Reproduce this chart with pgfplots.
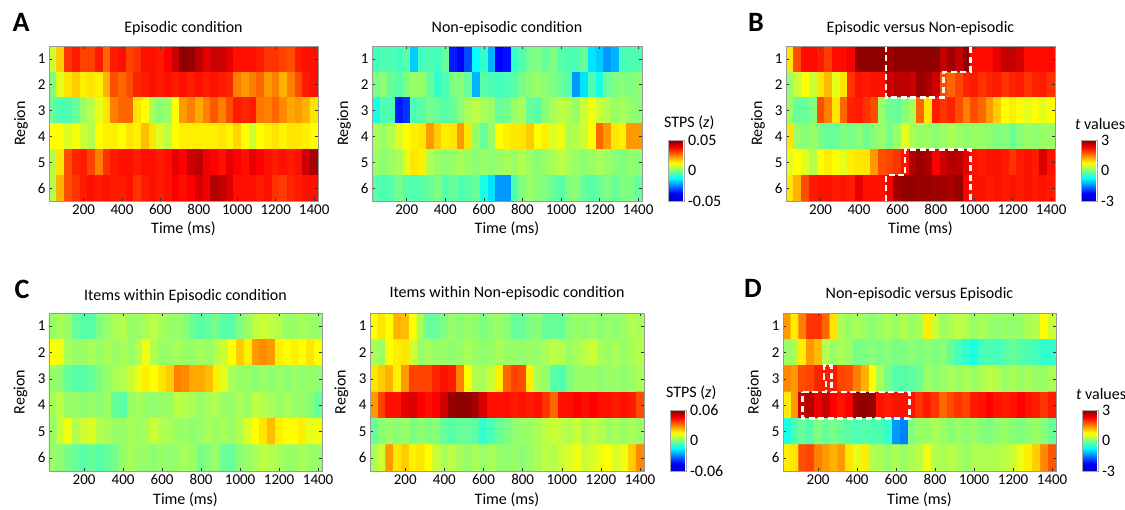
\documentclass[border=0pt]{standalone}
\usepackage{fontspec}
\setmainfont{Carlito}
\usepackage{pgfplots}
\pgfplotsset{compat=1.18}
\newcommand\fsz[1]{\fontsize{#1}{#1}\selectfont}
\pgfplotsset{
  colormap={myjet}{rgb255(0cm)=(0,0,190); rgb255(1cm)=(0,0,255); rgb255(3cm)=(0,255,255); rgb255(5cm)=(255,255,0); rgb255(7cm)=(255,0,0); rgb255(8cm)=(128,0,0)},
  hm/.style={scale only axis, anchor=north west,
    xmin=20, xmax=1420, ymin=0.5, ymax=6.5, y dir=reverse, enlargelimits=false, axis on top,
    xtick={200,400,...,1400}, ytick={1,2,3,4,5,6},
    tick align=inside, major tick length=3pt, tick style={black!80, line width=0.5pt},
    axis line style={gray!80, line width=0.6pt},
    xlabel={Time (ms)}, ylabel={Region},
    xlabel style={at={(axis description cs:0.5,-0.18)}, anchor=center, font=\fsz{16}},
    ylabel style={at={(axis description cs:-0.104,0.5)}, anchor=center, font=\fsz{16}},
    ticklabel style={font=\fsz{15}},
    /pgf/number format/1000 sep={}, /pgf/number format/assume math mode=true,
    title style={at={(axis description cs:0.5,1)}, anchor=center, yshift=14pt, font=\fsz{16}},
    colormap name=myjet},
  cbar/.style n args={4}{colorbar, colorbar style={scale only axis,
    at={(parent axis.south east)}, anchor=south west, xshift=18pt,
    width=16pt, height=61pt, y dir=normal, xtick=\empty,
    ytick={#1}, yticklabels={#2}, scaled y ticks=false,
    major tick length=0pt, axis line style={gray!70, line width=0.5pt},
    yticklabel style={font=\fsz{16}},
    xlabel={}, ylabel={},
    title={#4}, title style={at={(axis description cs:0,1)}, anchor=south west, xshift=#3, yshift=1pt, font=\fsz{16}}}},
  ct/.style={white, line width=2.6pt, dash pattern=on 6pt off 3.5pt, forget plot}
}
\begin{document}
\begin{tikzpicture}
\path[use as bounding box] (0,0) rectangle (1125pt,-510pt);
\node[font=\bfseries\fsz{28}] at (21pt,-22pt) {A};
\node[font=\bfseries\fsz{28}] at (756pt,-22pt) {B};
\node[font=\bfseries\fsz{28}] at (22pt,-289pt) {C};
\node[font=\bfseries\fsz{28}] at (753pt,-288pt) {D};

% ---------- A: Episodic condition
\begin{axis}[hm, at={(49pt,-46pt)}, width=269pt, height=155pt, title={Episodic condition},
  title style={yshift=-2pt}, point meta min=-0.05, point meta max=0.05]
\addplot[matrix plot*, mesh/cols=35, point meta=explicit] coordinates {
(40,1)[.0075] (80,1)[.0175] (120,1)[.0325] (160,1)[.035] (200,1)[.031] (240,1)[.031] (280,1)[.035] (320,1)[.0275] (360,1)[.035] (400,1)[.036] (440,1)[.031] (480,1)[.0325] (520,1)[.036] (560,1)[.036] (600,1)[.035] (640,1)[.0375] (680,1)[.0425] (720,1)[.0485] (760,1)[.0475] (800,1)[.044] (840,1)[.04] (880,1)[.0425] (920,1)[.0425] (960,1)[.04] (1000,1)[.036] (1040,1)[.036] (1080,1)[.036] (1120,1)[.035] (1160,1)[.0325] (1200,1)[.0325] (1240,1)[.031] (1280,1)[.03] (1320,1)[.035] (1360,1)[.036] (1400,1)[.036]
(40,2)[0] (80,2)[.01] (120,2)[.015] (160,2)[.0175] (200,2)[.014] (240,2)[.015] (280,2)[.014] (320,2)[.02] (360,2)[.03] (400,2)[.0275] (440,2)[.03] (480,2)[.034] (520,2)[.035] (560,2)[.036] (600,2)[.035] (640,2)[.036] (680,2)[.035] (720,2)[.036] (760,2)[.035] (800,2)[.036] (840,2)[.035] (880,2)[.036] (920,2)[.035] (960,2)[.034] (1000,2)[.025] (1040,2)[.0225] (1080,2)[.025] (1120,2)[.0275] (1160,2)[.0225] (1200,2)[.025] (1240,2)[.02] (1280,2)[.025] (1320,2)[.03] (1360,2)[.035] (1400,2)[.036]
(40,3)[-.0025] (80,3)[-.005] (120,3)[-.005] (160,3)[-.0025] (200,3)[.0025] (240,3)[.006] (280,3)[.01] (320,3)[.015] (360,3)[.025] (400,3)[.0275] (440,3)[.0275] (480,3)[.015] (520,3)[.0125] (560,3)[.004] (600,3)[.001] (640,3)[.0025] (680,3)[.0125] (720,3)[.0225] (760,3)[.025] (800,3)[.021] (840,3)[.025] (880,3)[.029] (920,3)[.025] (960,3)[.03] (1000,3)[.035] (1040,3)[.034] (1080,3)[.035] (1120,3)[.026] (1160,3)[.025] (1200,3)[.0275] (1240,3)[.024] (1280,3)[.021] (1320,3)[.0225] (1360,3)[.02] (1400,3)[.015]
(40,4)[.0125] (80,4)[.0125] (120,4)[.009] (160,4)[.0115] (200,4)[.0075] (240,4)[.005] (280,4)[.0125] (320,4)[.014] (360,4)[.014] (400,4)[.0125] (440,4)[.015] (480,4)[.014] (520,4)[.019] (560,4)[.015] (600,4)[.009] (640,4)[.006] (680,4)[.0125] (720,4)[.014] (760,4)[.014] (800,4)[.014] (840,4)[.014] (880,4)[.014] (920,4)[.015] (960,4)[.0135] (1000,4)[.0165] (1040,4)[.0125] (1080,4)[.0075] (1120,4)[.0125] (1160,4)[.014] (1200,4)[.015] (1240,4)[.0135] (1280,4)[.015] (1320,4)[.015] (1360,4)[.014] (1400,4)[.0125]
(40,5)[.005] (80,5)[.015] (120,5)[.03] (160,5)[.034] (200,5)[.035] (240,5)[.031] (280,5)[.025] (320,5)[.0325] (360,5)[.035] (400,5)[.036] (440,5)[.036] (480,5)[.035] (520,5)[.036] (560,5)[.036] (600,5)[.035] (640,5)[.036] (680,5)[.04] (720,5)[.0375] (760,5)[.0425] (800,5)[.044] (840,5)[.039] (880,5)[.0375] (920,5)[.036] (960,5)[.04] (1000,5)[.0375] (1040,5)[.036] (1080,5)[.04] (1120,5)[.0375] (1160,5)[.036] (1200,5)[.035] (1240,5)[.036] (1280,5)[.035] (1320,5)[.036] (1360,5)[.0425] (1400,5)[.046]
(40,6)[.005] (80,6)[.02] (120,6)[.03] (160,6)[.0325] (200,6)[.035] (240,6)[.036] (280,6)[.035] (320,6)[.036] (360,6)[.035] (400,6)[.035] (440,6)[.036] (480,6)[.0325] (520,6)[.035] (560,6)[.036] (600,6)[.035] (640,6)[.036] (680,6)[.0375] (720,6)[.036] (760,6)[.0375] (800,6)[.041] (840,6)[.039] (880,6)[.045] (920,6)[.044] (960,6)[.041] (1000,6)[.036] (1040,6)[.036] (1080,6)[.036] (1120,6)[.035] (1160,6)[.036] (1200,6)[.0325] (1240,6)[.0315] (1280,6)[.034] (1320,6)[.035] (1360,6)[.036] (1400,6)[.036]
};
\end{axis}

% ---------- Non-episodic condition
\begin{axis}[hm, at={(372pt,-46pt)}, width=270pt, height=155pt, title={Non-episodic condition},
  title style={yshift=-2pt}, point meta min=-0.05, point meta max=0.05,
  cbar={-0.05,0,0.05}{-0.05,0,0.05}{-8pt}{STPS (\textit{z})}]
\addplot[matrix plot*, mesh/cols=35, point meta=explicit] coordinates {
(40,1)[-.006] (80,1)[-.005] (120,1)[-.005] (160,1)[-.006] (200,1)[-.004] (240,1)[-.0175] (280,1)[-.006] (320,1)[-.005] (360,1)[-.006] (400,1)[-.0025] (440,1)[-.035] (480,1)[-.0375] (520,1)[-.03] (560,1)[-.0125] (600,1)[-.0075] (640,1)[-.02] (680,1)[-.0375] (720,1)[-.036] (760,1)[-.0075] (800,1)[-.005] (840,1)[-.001] (880,1)[0] (920,1)[-.0025] (960,1)[0] (1000,1)[-.004] (1040,1)[-.005] (1080,1)[-.005] (1120,1)[-.0025] (1160,1)[-.015] (1200,1)[-.0175] (1240,1)[-.0225] (1280,1)[-.02] (1320,1)[-.006] (1360,1)[-.005] (1400,1)[-.005]
(40,2)[0] (80,2)[.001] (120,2)[-.0025] (160,2)[-.004] (200,2)[0] (240,2)[.0025] (280,2)[.0025] (320,2)[-.0025] (360,2)[-.0075] (400,2)[-.005] (440,2)[0] (480,2)[.001] (520,2)[-.0025] (560,2)[-.02] (600,2)[-.004] (640,2)[-.005] (680,2)[-.006] (720,2)[-.005] (760,2)[-.004] (800,2)[-.001] (840,2)[.001] (880,2)[.0025] (920,2)[.001] (960,2)[0] (1000,2)[-.0025] (1040,2)[-.004] (1080,2)[-.0225] (1120,2)[-.015] (1160,2)[-.005] (1200,2)[-.01] (1240,2)[-.0025] (1280,2)[0] (1320,2)[.001] (1360,2)[0] (1400,2)[.001]
(40,3)[-.01] (80,3)[-.005] (120,3)[-.005] (160,3)[-.035] (200,3)[-.0325] (240,3)[-.005] (280,3)[-.004] (320,3)[-.001] (360,3)[-.0025] (400,3)[-.004] (440,3)[-.0025] (480,3)[.001] (520,3)[.004] (560,3)[.006] (600,3)[.004] (640,3)[.0025] (680,3)[-.0025] (720,3)[-.001] (760,3)[.0025] (800,3)[.004] (840,3)[-.0025] (880,3)[-.004] (920,3)[.001] (960,3)[.004] (1000,3)[.006] (1040,3)[.005] (1080,3)[.0025] (1120,3)[.0075] (1160,3)[.011] (1200,3)[.0075] (1240,3)[.005] (1280,3)[.0025] (1320,3)[.004] (1360,3)[.0025] (1400,3)[.001]
(40,4)[.004] (80,4)[.0025] (120,4)[.005] (160,4)[.009] (200,4)[.0125] (240,4)[.014] (280,4)[.015] (320,4)[.0225] (360,4)[.0175] (400,4)[.014] (440,4)[.015] (480,4)[.0225] (520,4)[.015] (560,4)[.0025] (600,4)[-.0025] (640,4)[.0025] (680,4)[.0125] (720,4)[.014] (760,4)[.015] (800,4)[.015] (840,4)[.0175] (880,4)[.0125] (920,4)[.014] (960,4)[.009] (1000,4)[.011] (1040,4)[.004] (1080,4)[.005] (1120,4)[.0075] (1160,4)[.0125] (1200,4)[.0275] (1240,4)[.0225] (1280,4)[.015] (1320,4)[.014] (1360,4)[.0225] (1400,4)[.0225]
(40,5)[.0025] (80,5)[.0015] (120,5)[.0025] (160,5)[.004] (200,5)[.01] (240,5)[.015] (280,5)[.014] (320,5)[.005] (360,5)[.0025] (400,5)[.0015] (440,5)[.0025] (480,5)[.004] (520,5)[.0025] (560,5)[.001] (600,5)[.0025] (640,5)[.0015] (680,5)[.0025] (720,5)[.004] (760,5)[.0025] (800,5)[.005] (840,5)[.0025] (880,5)[.001] (920,5)[.0025] (960,5)[.004] (1000,5)[.006] (1040,5)[.004] (1080,5)[.0025] (1120,5)[.0015] (1160,5)[.0025] (1200,5)[.004] (1240,5)[.0025] (1280,5)[.001] (1320,5)[0] (1360,5)[.0015] (1400,5)[.001]
(40,6)[-.004] (80,6)[-.005] (120,6)[-.004] (160,6)[-.001] (200,6)[-.004] (240,6)[-.005] (280,6)[-.004] (320,6)[-.0025] (360,6)[0] (400,6)[-.004] (440,6)[-.0025] (480,6)[-.005] (520,6)[-.004] (560,6)[-.0025] (600,6)[-.01] (640,6)[-.015] (680,6)[-.0225] (720,6)[-.0225] (760,6)[-.005] (800,6)[0] (840,6)[.0025] (880,6)[.001] (920,6)[0] (960,6)[-.0025] (1000,6)[-.004] (1040,6)[0] (1080,6)[.001] (1120,6)[-.0025] (1160,6)[-.004] (1200,6)[-.0025] (1240,6)[0] (1280,6)[-.0025] (1320,6)[0] (1360,6)[0] (1400,6)[-.0025]
};
\end{axis}

% ---------- B: Episodic versus Non-episodic
\begin{axis}[hm, at={(786pt,-46pt)}, width=269pt, height=155pt, title={Episodic versus Non-episodic},
  title style={yshift=-2pt}, point meta min=-3, point meta max=3,
  cbar={-3,0,3}{-3,0,3}{-10pt}{\textit{t} values}]
\addplot[matrix plot*, mesh/cols=35, point meta=explicit] coordinates {
(40,1)[0.9] (80,1)[1.8] (120,1)[2.2] (160,1)[2.2] (200,1)[2.1] (240,1)[1.9] (280,1)[2.2] (320,1)[2.2] (360,1)[2.3] (400,1)[2.9] (440,1)[2.9] (480,1)[2.9] (520,1)[2.9] (560,1)[2.8] (600,1)[2.9] (640,1)[2.9] (680,1)[2.9] (720,1)[2.9] (760,1)[2.9] (800,1)[2.9] (840,1)[2.6] (880,1)[2.8] (920,1)[2.6] (960,1)[2.9] (1000,1)[2.2] (1040,1)[2.2] (1080,1)[2.2] (1120,1)[2.4] (1160,1)[2.6] (1200,1)[2.6] (1240,1)[2.5] (1280,1)[2.2] (1320,1)[2.2] (1360,1)[2.2] (1400,1)[2.2]
(40,2)[.15] (80,2)[.45] (120,2)[.75] (160,2)[.45] (200,2)[.9] (240,2)[1.15] (280,2)[.6] (320,2)[.9] (360,2)[1.95] (400,2)[2.15] (440,2)[2.1] (480,2)[2.15] (520,2)[2.15] (560,2)[2.55] (600,2)[2.65] (640,2)[2.65] (680,2)[2.55] (720,2)[2.85] (760,2)[2.75] (800,2)[2.55] (840,2)[1.8] (880,2)[1.65] (920,2)[1.85] (960,2)[2.05] (1000,2)[2.1] (1040,2)[1.95] (1080,2)[2.05] (1120,2)[2.1] (1160,2)[1.95] (1200,2)[2.05] (1240,2)[2.1] (1280,2)[1.95] (1320,2)[2.05] (1360,2)[2.1] (1400,2)[1.95]
(40,3)[.15] (80,3)[-.15] (120,3)[-.15] (160,3)[0] (200,3)[1.8] (240,3)[1.5] (280,3)[.9] (320,3)[1.65] (360,3)[2.05] (400,3)[2.1] (440,3)[1.95] (480,3)[1.8] (520,3)[.15] (560,3)[-.1] (600,3)[-.15] (640,3)[.05] (680,3)[.25] (720,3)[1.65] (760,3)[.9] (800,3)[2.1] (840,3)[1.95] (880,3)[2.05] (920,3)[1.8] (960,3)[1.5] (1000,3)[1.8] (1040,3)[1.65] (1080,3)[1.35] (1120,3)[1.05] (1160,3)[.75] (1200,3)[.85] (1240,3)[.75] (1280,3)[.6] (1320,3)[.75] (1360,3)[.6] (1400,3)[.75]
(40,4)[.9] (80,4)[.15] (120,4)[.05] (160,4)[.15] (200,4)[-.05] (240,4)[-.15] (280,4)[-.15] (320,4)[0] (360,4)[-.05] (400,4)[.05] (440,4)[-.1] (480,4)[.05] (520,4)[.15] (560,4)[-.05] (600,4)[.15] (640,4)[.6] (680,4)[.25] (720,4)[.15] (760,4)[.15] (800,4)[.1] (840,4)[.15] (880,4)[.25] (920,4)[.15] (960,4)[.1] (1000,4)[.15] (1040,4)[.15] (1080,4)[.1] (1120,4)[0] (1160,4)[.05] (1200,4)[-.15] (1240,4)[.05] (1280,4)[.15] (1320,4)[.1] (1360,4)[.15] (1400,4)[.15]
(40,5)[.6] (80,5)[.75] (120,5)[.55] (160,5)[.3] (200,5)[.75] (240,5)[.85] (280,5)[.75] (320,5)[.6] (360,5)[.85] (400,5)[.9] (440,5)[.9] (480,5)[1.35] (520,5)[1.8] (560,5)[1.85] (600,5)[1.95] (640,5)[2.15] (680,5)[2.7] (720,5)[2.85] (760,5)[2.75] (800,5)[2.25] (840,5)[2.55] (880,5)[2.7] (920,5)[2.65] (960,5)[2.4] (1000,5)[2.15] (1040,5)[2.1] (1080,5)[2.15] (1120,5)[2.15] (1160,5)[2.1] (1200,5)[1.95] (1240,5)[2.1] (1280,5)[2.15] (1320,5)[2.1] (1360,5)[2.45] (1400,5)[2.15]
(40,6)[.9] (80,6)[1.2] (120,6)[1.8] (160,6)[2.1] (200,6)[2.15] (240,6)[2.15] (280,6)[2.1] (320,6)[2.15] (360,6)[2.1] (400,6)[2.4] (440,6)[2.15] (480,6)[2.15] (520,6)[2.15] (560,6)[2.3] (600,6)[2.8] (640,6)[2.9] (680,6)[2.9] (720,6)[2.85] (760,6)[2.85] (800,6)[2.8] (840,6)[2.8] (880,6)[2.75] (920,6)[2.85] (960,6)[2.25] (1000,6)[2.15] (1040,6)[2.15] (1080,6)[2.1] (1120,6)[2.15] (1160,6)[2.1] (1200,6)[2.15] (1240,6)[2.1] (1280,6)[2.15] (1320,6)[2.1] (1360,6)[2.15] (1400,6)[2.1]
};
\addplot[ct] coordinates {(540,0.5) (540,2.5) (840,2.5) (840,1.5) (980,1.5) (980,0.5)};
\addplot[ct] coordinates {(540,6.5) (540,5.5) (640,5.5) (640,4.5) (980,4.5) (980,6.5)};
\end{axis}

% ---------- C left: Items within Episodic condition
\begin{axis}[hm, at={(49pt,-313pt)}, width=273pt, height=158pt, title={Items within Episodic condition},
  title style={yshift=-3pt}, point meta min=-0.06, point meta max=0.06]
\addplot[matrix plot*, mesh/cols=35, point meta=explicit] coordinates {
(40,1)[.003] (80,1)[.0048] (120,1)[.003] (160,1)[-.003] (200,1)[-.0048] (240,1)[-.0048] (280,1)[0] (320,1)[.003] (360,1)[.0048] (400,1)[.006] (440,1)[.003] (480,1)[.003] (520,1)[.0048] (560,1)[.0072] (600,1)[.0048] (640,1)[.003] (680,1)[.003] (720,1)[.0012] (760,1)[-.003] (800,1)[-.0048] (840,1)[-.003] (880,1)[-.0012] (920,1)[-.0048] (960,1)[-.0048] (1000,1)[0] (1040,1)[.003] (1080,1)[.0072] (1120,1)[.009] (1160,1)[.0072] (1200,1)[.006] (1240,1)[.003] (1280,1)[.003] (1320,1)[.0048] (1360,1)[.003] (1400,1)[.003]
(40,2)[.015] (80,2)[.0132] (120,2)[.0048] (160,2)[.003] (200,2)[.003] (240,2)[.0048] (280,2)[.003] (320,2)[.0048] (360,2)[.003] (400,2)[.0048] (440,2)[.003] (480,2)[.006] (520,2)[.0132] (560,2)[.006] (600,2)[.003] (640,2)[.003] (680,2)[.0048] (720,2)[.003] (760,2)[.003] (800,2)[.0048] (840,2)[.003] (880,2)[.006] (920,2)[.009] (960,2)[.015] (1000,2)[.021] (1040,2)[.0168] (1080,2)[.027] (1120,2)[.0288] (1160,2)[.027] (1200,2)[.0168] (1240,2)[.015] (1280,2)[.0168] (1320,2)[.015] (1360,2)[.018] (1400,2)[.015]
(40,3)[.003] (80,3)[.0012] (120,3)[-.003] (160,3)[-.0048] (200,3)[-.0048] (240,3)[-.003] (280,3)[0] (320,3)[.003] (360,3)[.0048] (400,3)[.006] (440,3)[.009] (480,3)[.0132] (520,3)[.0168] (560,3)[.015] (600,3)[.018] (640,3)[.021] (680,3)[.03] (720,3)[.0288] (760,3)[.0252] (800,3)[.0252] (840,3)[.0228] (880,3)[.0168] (920,3)[.012] (960,3)[.0048] (1000,3)[.003] (1040,3)[.003] (1080,3)[.0012] (1120,3)[.003] (1160,3)[.0018] (1200,3)[.003] (1240,3)[.0012] (1280,3)[.003] (1320,3)[.0018] (1360,3)[.003] (1400,3)[.0018]
(40,4)[.0048] (80,4)[.0072] (120,4)[.003] (160,4)[.003] (200,4)[.0018] (240,4)[.003] (280,4)[.0012] (320,4)[.003] (360,4)[-.003] (400,4)[-.0048] (440,4)[.003] (480,4)[.0048] (520,4)[.003] (560,4)[.0018] (600,4)[.003] (640,4)[.003] (680,4)[.0072] (720,4)[.006] (760,4)[.0048] (800,4)[.003] (840,4)[.0048] (880,4)[.006] (920,4)[.003] (960,4)[.003] (1000,4)[.0048] (1040,4)[.003] (1080,4)[.0072] (1120,4)[.006] (1160,4)[.0048] (1200,4)[.003] (1240,4)[.0048] (1280,4)[.003] (1320,4)[.003] (1360,4)[.0012] (1400,4)[-.003]
(40,5)[.003] (80,5)[.009] (120,5)[.0132] (160,5)[.006] (200,5)[.009] (240,5)[.0108] (280,5)[.006] (320,5)[.0048] (360,5)[.003] (400,5)[.003] (440,5)[.0048] (480,5)[.003] (520,5)[.0048] (560,5)[.009] (600,5)[.006] (640,5)[.0048] (680,5)[.003] (720,5)[.003] (760,5)[.0018] (800,5)[.003] (840,5)[.0048] (880,5)[.003] (920,5)[.0048] (960,5)[.003] (1000,5)[.006] (1040,5)[.0108] (1080,5)[.015] (1120,5)[.018] (1160,5)[.0228] (1200,5)[.0168] (1240,5)[.015] (1280,5)[.015] (1320,5)[.0168] (1360,5)[.012] (1400,5)[.0132]
(40,6)[.003] (80,6)[.0012] (120,6)[-.0012] (160,6)[-.003] (200,6)[-.0048] (240,6)[-.003] (280,6)[-.0048] (320,6)[-.003] (360,6)[-.0012] (400,6)[.003] (440,6)[.0048] (480,6)[.003] (520,6)[.003] (560,6)[.0012] (600,6)[.003] (640,6)[.0018] (680,6)[.003] (720,6)[.0048] (760,6)[.003] (800,6)[-.0012] (840,6)[.0012] (880,6)[.003] (920,6)[-.003] (960,6)[-.003] (1000,6)[.0012] (1040,6)[.003] (1080,6)[.0048] (1120,6)[.0072] (1160,6)[.006] (1200,6)[.0048] (1240,6)[.003] (1280,6)[.003] (1320,6)[.0048] (1360,6)[.003] (1400,6)[.003]
};
\end{axis}

% ---------- C right: Items within Non-episodic condition
\begin{axis}[hm, at={(370pt,-313pt)}, width=274pt, height=158pt, title={Items within Non-episodic condition},
  title style={yshift=0pt}, point meta min=-0.06, point meta max=0.06,
  cbar={-0.06,0,0.06}{-0.06,0,0.06}{-8pt}{STPS (\textit{z})}]
\addplot[matrix plot*, mesh/cols=35, point meta=explicit] coordinates {
(40,1)[.015] (80,1)[.018] (120,1)[.015] (160,1)[.024] (200,1)[.0228] (240,1)[.015] (280,1)[.0048] (320,1)[-.003] (360,1)[-.003] (400,1)[0] (440,1)[.003] (480,1)[.0012] (520,1)[.003] (560,1)[.0018] (600,1)[0] (640,1)[.0018] (680,1)[.003] (720,1)[.0012] (760,1)[-.003] (800,1)[-.003] (840,1)[0] (880,1)[.0012] (920,1)[-.003] (960,1)[-.003] (1000,1)[-.003] (1040,1)[.0012] (1080,1)[.003] (1120,1)[.0018] (1160,1)[.003] (1200,1)[.0012] (1240,1)[.003] (1280,1)[.0018] (1320,1)[.003] (1360,1)[.006] (1400,1)[.0048]
(40,2)[.0048] (80,2)[.003] (120,2)[.015] (160,2)[.0168] (200,2)[.018] (240,2)[.009] (280,2)[.003] (320,2)[.0048] (360,2)[.003] (400,2)[.003] (440,2)[.0018] (480,2)[.003] (520,2)[.0048] (560,2)[.003] (600,2)[.0018] (640,2)[.003] (680,2)[.0048] (720,2)[.003] (760,2)[.003] (800,2)[.0018] (840,2)[.003] (880,2)[.003] (920,2)[.0048] (960,2)[.0072] (1000,2)[.006] (1040,2)[.003] (1080,2)[.0048] (1120,2)[.0072] (1160,2)[.009] (1200,2)[.0048] (1240,2)[.003] (1280,2)[.0048] (1320,2)[.003] (1360,2)[.0048] (1400,2)[.006]
(40,3)[.018] (80,3)[.021] (120,3)[.024] (160,3)[.0168] (200,3)[.027] (240,3)[.0372] (280,3)[.0372] (320,3)[.0372] (360,3)[.0408] (400,3)[.0432] (440,3)[.042] (480,3)[.03] (520,3)[.015] (560,3)[.006] (600,3)[.0048] (640,3)[.009] (680,3)[.0168] (720,3)[.033] (760,3)[.0372] (800,3)[.036] (840,3)[.0168] (880,3)[.0048] (920,3)[.003] (960,3)[-.0048] (1000,3)[-.006] (1040,3)[0] (1080,3)[.003] (1120,3)[.003] (1160,3)[.003] (1200,3)[.0018] (1240,3)[.003] (1280,3)[.003] (1320,3)[.0018] (1360,3)[.003] (1400,3)[.0048]
(40,4)[.027] (80,4)[.0372] (120,4)[.0432] (160,4)[.0432] (200,4)[.048] (240,4)[.0492] (280,4)[.045] (320,4)[.0432] (360,4)[.045] (400,4)[.051] (440,4)[.057] (480,4)[.0582] (520,4)[.0582] (560,4)[.0552] (600,4)[.0492] (640,4)[.0432] (680,4)[.0432] (720,4)[.0432] (760,4)[.042] (800,4)[.0432] (840,4)[.042] (880,4)[.0432] (920,4)[.039] (960,4)[.033] (1000,4)[.0432] (1040,4)[.0432] (1080,4)[.045] (1120,4)[.0432] (1160,4)[.045] (1200,4)[.0432] (1240,4)[.0432] (1280,4)[.042] (1320,4)[.0432] (1360,4)[.042] (1400,4)[.036]
(40,5)[-.003] (80,5)[.0012] (120,5)[.003] (160,5)[.0012] (200,5)[.003] (240,5)[0] (280,5)[.0018] (320,5)[0] (360,5)[.0012] (400,5)[-.003] (440,5)[-.0048] (480,5)[-.003] (520,5)[-.003] (560,5)[-.0048] (600,5)[-.009] (640,5)[-.006] (680,5)[-.003] (720,5)[0] (760,5)[.0018] (800,5)[.003] (840,5)[.003] (880,5)[.0048] (920,5)[.0072] (960,5)[.009] (1000,5)[.0072] (1040,5)[.006] (1080,5)[.009] (1120,5)[.0048] (1160,5)[.0072] (1200,5)[.006] (1240,5)[.003] (1280,5)[.0048] (1320,5)[.003] (1360,5)[.0048] (1400,5)[.003]
(40,6)[.0048] (80,6)[.009] (120,6)[.027] (160,6)[.018] (200,6)[.021] (240,6)[.0168] (280,6)[.018] (320,6)[.015] (360,6)[.009] (400,6)[.0048] (440,6)[.0072] (480,6)[.0048] (520,6)[.003] (560,6)[.0048] (600,6)[.003] (640,6)[.0048] (680,6)[.003] (720,6)[.0018] (760,6)[.003] (800,6)[.0012] (840,6)[.003] (880,6)[.0048] (920,6)[.0072] (960,6)[.006] (1000,6)[.009] (1040,6)[.0108] (1080,6)[.0132] (1120,6)[.009] (1160,6)[.0108] (1200,6)[.0132] (1240,6)[.015] (1280,6)[.0108] (1320,6)[.0132] (1360,6)[.021] (1400,6)[.0288]
};
\end{axis}

% ---------- D: Non-episodic versus Episodic
\begin{axis}[hm, at={(783pt,-313pt)}, width=273pt, height=158pt, title={Non-episodic versus Episodic},
  title style={yshift=-1pt}, point meta min=-3, point meta max=3,
  cbar={-3,0,3}{-3,0,3}{-10pt}{\textit{t} values}]
\addplot[matrix plot*, mesh/cols=35, point meta=explicit] coordinates {
(40,1)[1.35] (80,1)[.85] (120,1)[1.5] (160,1)[1.95] (200,1)[1.95] (240,1)[1.65] (280,1)[.9] (320,1)[.25] (360,1)[.15] (400,1)[.25] (440,1)[.15] (480,1)[.05] (520,1)[.15] (560,1)[.25] (600,1)[.15] (640,1)[.3] (680,1)[.15] (720,1)[.25] (760,1)[.85] (800,1)[.45] (840,1)[.15] (880,1)[.25] (920,1)[.35] (960,1)[.3] (1000,1)[.15] (1040,1)[.25] (1080,1)[.15] (1120,1)[.1] (1160,1)[.15] (1200,1)[.1] (1240,1)[.15] (1280,1)[.25] (1320,1)[.3] (1360,1)[.75] (1400,1)[.45]
(40,2)[.15] (80,2)[.25] (120,2)[.85] (160,2)[1.35] (200,2)[1.15] (240,2)[.3] (280,2)[.15] (320,2)[.25] (360,2)[.15] (400,2)[-.05] (440,2)[0] (480,2)[.05] (520,2)[0] (560,2)[.05] (600,2)[-.05] (640,2)[0] (680,2)[.05] (720,2)[0] (760,2)[.05] (800,2)[0] (840,2)[.05] (880,2)[-.15] (920,2)[-.3] (960,2)[-.45] (1000,2)[-.6] (1040,2)[-.35] (1080,2)[-.3] (1120,2)[-.35] (1160,2)[-.25] (1200,2)[-.15] (1240,2)[-.25] (1280,2)[-.3] (1320,2)[-.35] (1360,2)[-.45] (1400,2)[-.45]
(40,3)[1.45] (80,3)[1.35] (120,3)[1.8] (160,3)[1.85] (200,3)[2.05] (240,3)[2.1] (280,3)[2.1] (320,3)[1.85] (360,3)[1.8] (400,3)[1.5] (440,3)[1.2] (480,3)[.75] (520,3)[.25] (560,3)[-.05] (600,3)[-.25] (640,3)[-.25] (680,3)[-.2] (720,3)[-.1] (760,3)[.15] (800,3)[.1] (840,3)[.15] (880,3)[.25] (920,3)[.15] (960,3)[.25] (1000,3)[.15] (1040,3)[.25] (1080,3)[.35] (1120,3)[.3] (1160,3)[.15] (1200,3)[.25] (1240,3)[.15] (1280,3)[.25] (1320,3)[.15] (1360,3)[.15] (1400,3)[.25]
(40,4)[.85] (80,4)[1.35] (120,4)[2.55] (160,4)[2.7] (200,4)[2.35] (240,4)[2.55] (280,4)[2.25] (320,4)[2.15] (360,4)[2.25] (400,4)[2.85] (440,4)[2.9] (480,4)[2.85] (520,4)[2.15] (560,4)[2.1] (600,4)[2.15] (640,4)[2.15] (680,4)[2.15] (720,4)[1.95] (760,4)[2.1] (800,4)[1.95] (840,4)[1.65] (880,4)[1.8] (920,4)[1.95] (960,4)[1.85] (1000,4)[2.1] (1040,4)[2.15] (1080,4)[2.25] (1120,4)[2.15] (1160,4)[2.1] (1200,4)[2.15] (1240,4)[2.25] (1280,4)[2.15] (1320,4)[2.1] (1360,4)[1.95] (1400,4)[2.1]
(40,5)[-.6] (80,5)[-.3] (120,5)[-.15] (160,5)[-.25] (200,5)[0] (240,5)[-.15] (280,5)[-.05] (320,5)[-.15] (360,5)[-.25] (400,5)[-.3] (440,5)[-.25] (480,5)[-.3] (520,5)[-.3] (560,5)[-.45] (600,5)[-1.35] (640,5)[-1.5] (680,5)[0] (720,5)[.15] (760,5)[.15] (800,5)[.25] (840,5)[.15] (880,5)[.05] (920,5)[.15] (960,5)[.1] (1000,5)[.15] (1040,5)[.05] (1080,5)[0] (1120,5)[.1] (1160,5)[.15] (1200,5)[.05] (1240,5)[0] (1280,5)[.1] (1320,5)[.15] (1360,5)[.05] (1400,5)[-.15]
(40,6)[.85] (80,6)[.9] (120,6)[1.8] (160,6)[1.85] (200,6)[1.5] (240,6)[1.35] (280,6)[1.2] (320,6)[1.35] (360,6)[.9] (400,6)[.6] (440,6)[.85] (480,6)[.3] (520,6)[.25] (560,6)[.15] (600,6)[.25] (640,6)[.15] (680,6)[.25] (720,6)[.35] (760,6)[.65] (800,6)[.3] (840,6)[.25] (880,6)[.35] (920,6)[.25] (960,6)[.15] (1000,6)[.25] (1040,6)[.3] (1080,6)[.25] (1120,6)[.3] (1160,6)[.35] (1200,6)[.45] (1240,6)[.65] (1280,6)[.85] (1320,6)[1.05] (1360,6)[1.45] (1400,6)[1.75]
};
\addplot[ct] coordinates {(120,3.5) (240,3.5) (240,3.0) (230,3.0) (230,2.5) (270,2.5) (270,3.5) (670,3.5) (670,4.5) (120,4.5) (120,3.5)};
\end{axis}
\end{tikzpicture}
\end{document}
